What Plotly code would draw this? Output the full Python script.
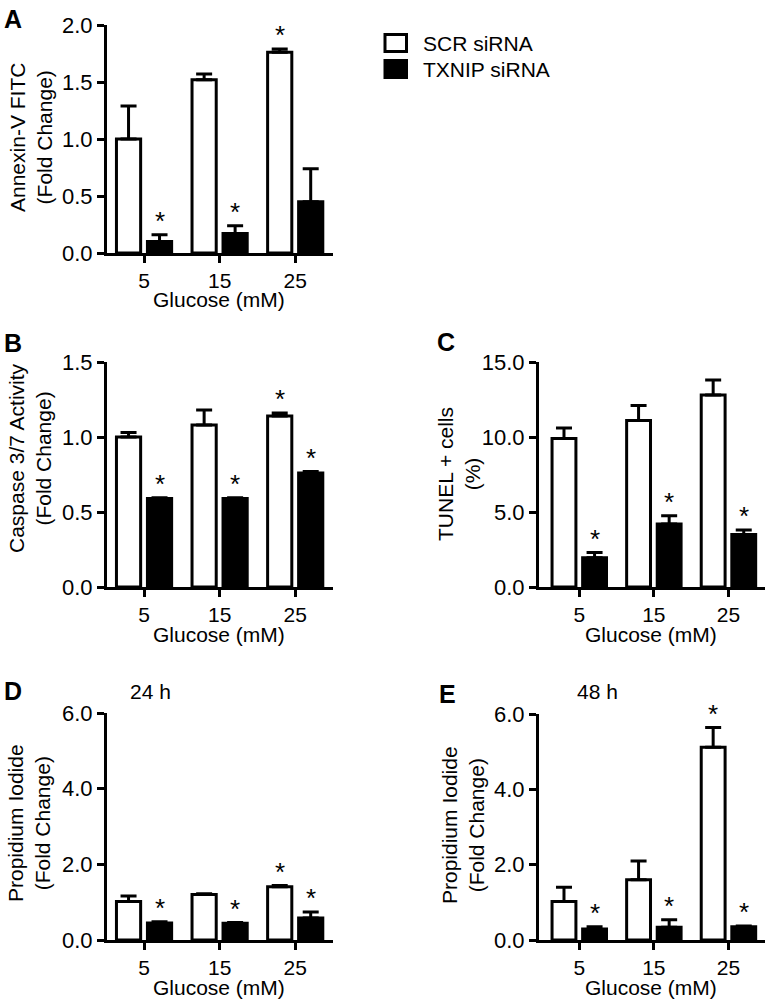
import plotly.graph_objects as go

W, H = 769, 1002
FONT = "Liberation Sans, Arial, sans-serif"

glucose = ["5", "15", "25"]
series_names = ["SCR siRNA", "TXNIP siRNA"]

# Panel A: Annexin-V FITC (Fold Change)
a_scr = [1.00, 1.52, 1.76]
a_scr_err = [0.29, 0.05, 0.03]
a_tx = [0.10, 0.17, 0.45]
a_tx_err = [0.06, 0.07, 0.29]
a_scr_sig = [False, False, True]
a_tx_sig = [True, True, False]

# Panel B: Caspase 3/7 Activity (Fold Change)
b_scr = [1.00, 1.08, 1.14]
b_scr_err = [0.03, 0.10, 0.02]
b_tx = [0.59, 0.59, 0.76]
b_tx_err = [0.005, 0.005, 0.01]
b_scr_sig = [False, False, True]
b_tx_sig = [True, True, True]

# Panel C: TUNEL + cells (%)
c_scr = [9.9, 11.1, 12.8]
c_scr_err = [0.7, 1.0, 1.0]
c_tx = [1.95, 4.2, 3.5]
c_tx_err = [0.35, 0.55, 0.3]
c_scr_sig = [False, False, False]
c_tx_sig = [True, True, True]

# Panel D: Propidium Iodide 24 h
d_scr = [1.02, 1.20, 1.41]
d_scr_err = [0.14, 0.02, 0.03]
d_tx = [0.45, 0.44, 0.58]
d_tx_err = [0.03, 0.02, 0.16]
d_scr_sig = [False, False, True]
d_tx_sig = [True, True, True]

# Panel E: Propidium Iodide 48 h
e_scr = [1.02, 1.60, 5.12]
e_scr_err = [0.38, 0.50, 0.52]
e_tx = [0.29, 0.34, 0.35]
e_tx_err = [0.06, 0.20, 0.02]
e_scr_sig = [False, False, True]
e_tx_sig = [True, True, True]

panel_letters = ["A", "B", "C", "D", "E"]
y_titles = ["Annexin-V FITC<br>(Fold Change)", "Caspase 3/7 Activity<br>(Fold Change)",
            "TUNEL + cells<br>(%)", "Propidium Iodide<br>(Fold Change)",
            "Propidium Iodide<br>(Fold Change)"]
y_ticks = [[0, 0.5, 1.0, 1.5, 2.0], [0, 0.5, 1.0, 1.5], [0, 5, 10, 15], [0, 2, 4, 6], [0, 2, 4, 6]]
subtitles = [None, None, None, "24 h", "48 h"]
x_title = "Glucose (mM)"

data = [
    (a_scr, a_scr_err, a_tx, a_tx_err, a_scr_sig, a_tx_sig),
    (b_scr, b_scr_err, b_tx, b_tx_err, b_scr_sig, b_tx_sig),
    (c_scr, c_scr_err, c_tx, c_tx_err, c_scr_sig, c_tx_sig),
    (d_scr, d_scr_err, d_tx, d_tx_err, d_scr_sig, d_tx_sig),
    (e_scr, e_scr_err, e_tx, e_tx_err, e_scr_sig, e_tx_sig),
]


def px(x):
    return x / W


def py(y):
    return 1 - y / H


# layout geometry in pixels: (x0, x1, ytop, ybottom)
boxes = [
    (107, 333, 25, 253),
    (107, 333, 362, 587),
    (539, 765, 362, 587),
    (107, 333, 713, 940),
    (539, 765, 714, 940),
]
xranges = [[-0.49, 2.50], [-0.49, 2.50], [-0.54, 2.49], [-0.49, 2.50], [-0.54, 2.49]]
ytitle_pos = [(31, 138), (30, 458), (459, 474), (29, 823), (463, 825)]
letter_pos = [(2, 19), (2, 343), (435, 342), (2, 691), (437, 694)]
subtitle_pos = [None, None, None, (128, 691), (575, 691)]

OFF_W, OFF_B, BW = -0.365, 0.045, 0.32

fig = go.Figure()
annotations = []
x_idx = list(range(len(glucose)))

for k, (scr, scr_e, tx, tx_e, scr_sig, tx_sig) in enumerate(data):
    ax = "" if k == 0 else str(k + 1)
    for name, vals, errs, fill, off, sig in [
        (series_names[0], scr, scr_e, "white", OFF_W, scr_sig),
        (series_names[1], tx, tx_e, "black", OFF_B, tx_sig),
    ]:
        fig.add_trace(go.Bar(
            x=x_idx, y=vals, name=name, showlegend=False,
            offset=off, width=BW,
            marker=dict(color=fill, line=dict(color="black", width=3)),
            error_y=dict(type="data", symmetric=False, array=errs,
                         arrayminus=[0] * len(errs), color="black",
                         thickness=3, width=8),
            xaxis="x" + ax, yaxis="y" + ax,
        ))
        for i, s in enumerate(sig):
            if s:
                annotations.append(dict(
                    x=i + off + BW / 2, y=vals[i] + errs[i],
                    xref="x" + ax, yref="y" + ax, text="*", showarrow=False,
                    yanchor="bottom", xanchor="center", yshift=-3,
                    font=dict(family=FONT, size=26, color="black")))

    x0, x1, yt, yb = boxes[k]
    fig.layout["xaxis" + ax] = dict(
        domain=[px(x0), px(x1)], range=xranges[k], anchor="y" + ax,
        tickmode="array", tickvals=x_idx, ticktext=glucose,
        ticks="outside", ticklen=7, tickwidth=3, tickcolor="black",
        showline=True, linewidth=3, linecolor="black",
        showgrid=False, zeroline=False, fixedrange=True,
        tickfont=dict(family=FONT, size=21, color="black"),
    )
    fig.layout["yaxis" + ax] = dict(
        domain=[py(yb), py(yt)], range=[0, y_ticks[k][-1]], anchor="x" + ax,
        tickmode="array", tickvals=y_ticks[k], tickformat=".1f",
        ticks="outside", ticklen=7, tickwidth=3, tickcolor="black",
        showline=True, linewidth=3, linecolor="black",
        showgrid=False, zeroline=False, fixedrange=True,
        tickfont=dict(family=FONT, size=22, color="black"),
    )
    # axis titles
    annotations.append(dict(
        x=px((x0 + x1) / 2 - 1), y=py(yb + 47), xref="paper", yref="paper",
        text=x_title, showarrow=False, xanchor="center", yanchor="middle",
        font=dict(family=FONT, size=21, color="black")))
    tx_, ty_ = ytitle_pos[k]
    annotations.append(dict(
        x=px(tx_), y=py(ty_), xref="paper", yref="paper", text=y_titles[k],
        showarrow=False, textangle=-90, xanchor="center", yanchor="middle",
        font=dict(family=FONT, size=21, color="black")))
    lx, ly = letter_pos[k]
    annotations.append(dict(
        x=px(lx), y=py(ly), xref="paper", yref="paper",
        text="<b>" + panel_letters[k] + "</b>", showarrow=False,
        xanchor="left", yanchor="middle",
        font=dict(family=FONT, size=25, color="black")))
    if subtitles[k]:
        sx, sy = subtitle_pos[k]
        annotations.append(dict(
            x=px(sx), y=py(sy), xref="paper", yref="paper", text=subtitles[k],
            showarrow=False, xanchor="left", yanchor="middle",
            font=dict(family=FONT, size=21, color="black")))

# legend (drawn as boxes + labels)
shapes = []
legend_rows = [(43, "white"), (69, "black")]
for (cy, fill), name in zip(legend_rows, series_names):
    shapes.append(dict(type="rect", xref="paper", yref="paper",
                       x0=px(385), x1=px(406.5), y0=py(cy + 8.5), y1=py(cy - 8.5),
                       fillcolor=fill, line=dict(color="black", width=3)))
    annotations.append(dict(
        x=px(421), y=py(cy), xref="paper", yref="paper", text=name,
        showarrow=False, xanchor="left", yanchor="middle",
        font=dict(family=FONT, size=21, color="black")))

fig.update_layout(
    width=W, height=H,
    margin=dict(l=0, r=0, t=0, b=0, pad=0, autoexpand=False),
    paper_bgcolor="white", plot_bgcolor="white",
    barmode="overlay", showlegend=False, hovermode=False,
    annotations=annotations, shapes=shapes,
    font=dict(family=FONT, color="black"),
)

fig.write_html(
    "out.html",
    config={"displayModeBar": False},
    post_script="document.documentElement.style.margin='0';"
                "document.body.style.margin='0';"
                "document.body.style.overflow='hidden';",
)
